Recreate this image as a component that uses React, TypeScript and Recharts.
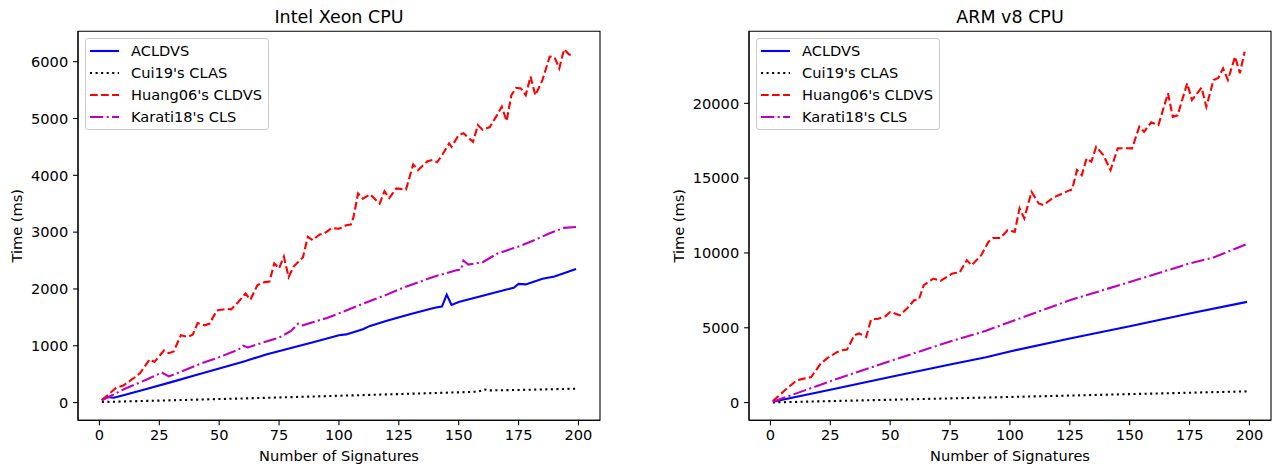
import React from 'react';
import { LineChart, Line, XAxis, YAxis, ReferenceArea, Legend } from 'recharts';

const FONT = '"DejaVu Sans", "Liberation Sans", sans-serif';
const FS = 14.6;
const TITLE_FS = 17.5;

// ---------- shared axis values ----------
const X_TICKS = [0, 25, 50, 75, 100, 125, 150, 175, 200];
const X_DOMAIN: [number, number] = [-8.95, 209];

const SERIES_NAMES = ['ACLDVS', "Cui19's CLAS", "Huang06's CLDVS", "Karati18's CLS"];

// ---------- Intel Xeon CPU ----------
const INTEL_Y_TICKS = [0, 1000, 2000, 3000, 4000, 5000, 6000];
const INTEL_Y_DOMAIN: [number, number] = [-312, 6535];

const INTEL_ACLDVS_X = [1, 3, 6, 10, 20, 30, 40, 50, 60, 70, 80, 90, 100, 103, 110, 113, 120, 130, 140, 143, 145, 147, 150, 160, 170, 173, 175, 178, 185, 190, 199];
const INTEL_ACLDVS_Y = [40, 100, 85, 130, 245, 360, 480, 600, 720, 850, 960, 1070, 1185, 1200, 1290, 1350, 1440, 1560, 1670, 1690, 1900, 1720, 1770, 1880, 1990, 2020, 2090, 2080, 2180, 2220, 2350];

const INTEL_CUI_X = [1, 25, 50, 75, 100, 125, 150, 158, 161, 163, 175, 199];
const INTEL_CUI_Y = [10, 35, 62, 90, 120, 150, 180, 192, 230, 215, 222, 245];

const INTEL_HUANG_X = [1, 4, 7, 10, 14, 17, 21, 23, 27, 29, 31, 34, 37, 39, 41, 44, 46, 49, 53, 55, 58, 61, 63, 66, 69, 71, 73, 75, 77, 79, 81, 85, 87, 89, 92, 94, 97, 100, 103, 105, 106, 108, 110, 113, 117, 119, 121, 124, 128, 131, 133, 137, 139, 141, 143, 146, 147, 150, 152, 156, 158, 160, 163, 166, 168, 170, 172, 174, 176, 178, 180, 182, 185, 188, 190, 192, 194, 196, 198];
const INTEL_HUANG_Y = [50, 150, 260, 300, 420, 520, 760, 715, 920, 870, 900, 1185, 1155, 1200, 1400, 1360, 1390, 1620, 1650, 1640, 1770, 1920, 1810, 2070, 2120, 2130, 2450, 2360, 2570, 2210, 2390, 2560, 2920, 2860, 2960, 2980, 3070, 3060, 3120, 3135, 3250, 3680, 3590, 3665, 3500, 3720, 3600, 3770, 3750, 4190, 4090, 4250, 4270, 4230, 4350, 4560, 4500, 4710, 4740, 4590, 4885, 4800, 4850, 5060, 5210, 4955, 5410, 5540, 5530, 5410, 5740, 5410, 5680, 6090, 6080, 5880, 6220, 6130, 6100];

const INTEL_KARATI_X = [1, 10, 20, 26, 29, 35, 42, 50, 58, 60, 62, 70, 75, 80, 83, 85, 88, 95, 100, 110, 120, 125, 130, 140, 149, 151, 152, 154, 160, 166, 173, 175, 180, 188, 194, 199];
const INTEL_KARATI_Y = [40, 230, 410, 530, 460, 560, 680, 800, 930, 1000, 970, 1080, 1145, 1260, 1390, 1360, 1400, 1490, 1570, 1740, 1900, 1990, 2070, 2220, 2330, 2340, 2500, 2430, 2470, 2620, 2720, 2745, 2830, 2980, 3075, 3090];

// ---------- ARM v8 CPU ----------
const ARM_Y_TICKS = [0, 5000, 10000, 15000, 20000];
const ARM_Y_DOMAIN: [number, number] = [-1184, 24816];

const ARM_ACLDVS_X = [1, 25, 50, 75, 90, 100, 125, 150, 175, 199];
const ARM_ACLDVS_Y = [50, 860, 1710, 2540, 3030, 3420, 4280, 5100, 5950, 6730];

const ARM_CUI_X = [1, 50, 100, 150, 199];
const ARM_CUI_Y = [10, 190, 375, 565, 750];

const ARM_HUANG_X = [1, 6, 11, 14, 17, 21, 24, 28, 30, 32, 35, 37, 40, 42, 45, 48, 50, 54, 57, 60, 62, 64, 68, 71, 76, 79, 82, 84, 88, 91, 93, 96, 99, 102, 104, 106, 109, 112, 114, 118, 121, 125, 126, 128, 130, 132, 134, 136, 139, 142, 145, 148, 151, 154, 156, 159, 162, 166, 168, 170, 174, 176, 180, 182, 185, 187, 189, 191, 194, 196, 198];
const ARM_HUANG_Y = [100, 820, 1490, 1600, 1700, 2610, 3000, 3390, 3500, 3540, 4500, 4620, 4390, 5550, 5600, 5770, 6060, 5840, 6290, 6840, 6900, 7850, 8290, 8140, 8630, 8700, 9520, 9180, 9850, 10740, 11000, 11000, 11520, 11410, 12980, 12310, 14090, 13310, 13200, 13690, 13910, 14200, 14250, 15540, 15200, 16320, 16100, 17100, 16540, 15540, 16990, 17000, 16990, 18440, 18100, 18730, 18550, 20670, 19100, 19200, 21340, 20220, 21050, 19770, 21560, 21700, 22340, 21560, 23120, 22010, 23450];

const ARM_KARATI_X = [1, 25, 50, 75, 90, 100, 125, 150, 175, 185, 199];
const ARM_KARATI_Y = [50, 1430, 2780, 4080, 4800, 5390, 6840, 8060, 9300, 9700, 10600];

// ---------- styles ----------
const LW = 2.1;
const STYLES = [
  { color: '#0000ff', dash: undefined as string | undefined },
  { color: '#000000', dash: '2.1 3.45' },
  { color: '#ff0000', dash: '7.7 3.33' },
  { color: '#bf00bf', dash: '13.3 3.33 2.1 3.33' },
];

type Pt = { x: number; y: number };
const zip = (xs: number[], ys: number[]): Pt[] => xs.map((x, i) => ({ x, y: ys[i] }));

const INTEL_SERIES = [
  zip(INTEL_ACLDVS_X, INTEL_ACLDVS_Y),
  zip(INTEL_CUI_X, INTEL_CUI_Y),
  zip(INTEL_HUANG_X, INTEL_HUANG_Y),
  zip(INTEL_KARATI_X, INTEL_KARATI_Y),
];
const ARM_SERIES = [
  zip(ARM_ACLDVS_X, ARM_ACLDVS_Y),
  zip(ARM_CUI_X, ARM_CUI_Y),
  zip(ARM_HUANG_X, ARM_HUANG_Y),
  zip(ARM_KARATI_X, ARM_KARATI_Y),
];

const LegendBox = () => (
  <div
    style={{
      border: '1px solid #cccccc',
      borderRadius: 3,
      background: 'rgba(255,255,255,0.8)',
      padding: '1px 6px 1px 4px',
      fontFamily: FONT,
      fontSize: FS,
      color: '#000',
      whiteSpace: 'nowrap',
    }}
  >
    {SERIES_NAMES.map((name, i) => (
      <div key={name} style={{ display: 'flex', alignItems: 'center', height: 22 }}>
        <svg width={29} height={22} style={{ display: 'block' }}>
          <line
            x1={0}
            y1={11}
            x2={29}
            y2={11}
            stroke={STYLES[i].color}
            strokeWidth={LW}
            strokeDasharray={STYLES[i].dash}
          />
        </svg>
        <span style={{ marginLeft: 12, lineHeight: '22px' }}>{name}</span>
      </div>
    ))}
  </div>
);

type PanelProps = {
  left: number;
  width: number;
  title: string;
  series: Pt[][];
  yDomain: [number, number];
  yTicks: number[];
  yLabelX: number;
  legendLeft: number;
};

const PLOT_W = 522;
const AXIS_W = 78;

function Panel({ left, width, title, series, yDomain, yTicks, yLabelX, legendLeft }: PanelProps) {
  const textStyle = { fill: '#000', fontSize: FS, fontFamily: FONT };
  return (
    <div style={{ position: 'absolute', left, top: 0 }}>
      <LineChart
        width={width}
        height={467}
        margin={{ top: 31.3, right: width - AXIS_W - PLOT_W, bottom: 0, left: 0 }}
      >
        <XAxis
          type="number"
          dataKey="x"
          domain={X_DOMAIN}
          ticks={X_TICKS}
          interval={0}
          allowDataOverflow
          height={46.7}
          tickSize={4.9}
          tickMargin={4.6}
          axisLine={{ stroke: '#000', strokeWidth: 1.1 }}
          tickLine={{ stroke: '#000', strokeWidth: 1.1 }}
          tick={textStyle}
          label={{
            content: (p: any) => {
              const vb = p.viewBox || {};
              return (
                <text
                  x={vb.x + vb.width / 2}
                  y={vb.y + 41}
                  textAnchor="middle"
                  fill="#000"
                  fontSize={FS}
                  fontFamily={FONT}
                >
                  Number of Signatures
                </text>
              );
            },
          }}
        />
        <YAxis
          type="number"
          domain={yDomain}
          ticks={yTicks}
          interval={0}
          allowDataOverflow
          width={AXIS_W}
          tickSize={4.9}
          tickMargin={4.9}
          axisLine={{ stroke: '#000', strokeWidth: 1.1 }}
          tickLine={{ stroke: '#000', strokeWidth: 1.1 }}
          tick={textStyle}
          label={{
            content: (p: any) => {
              const vb = p.viewBox || {};
              const cx = vb.x + yLabelX;
              const cy = vb.y + vb.height / 2;
              return (
                <text
                  x={cx}
                  y={cy}
                  transform={`rotate(-90 ${cx} ${cy})`}
                  textAnchor="middle"
                  dominantBaseline="central"
                  fill="#000"
                  fontSize={FS}
                  fontFamily={FONT}
                >
                  Time (ms)
                </text>
              );
            },
          }}
        />
        {series.map((d, i) => (
          <Line
            key={SERIES_NAMES[i]}
            data={d}
            dataKey="y"
            name={SERIES_NAMES[i]}
            type="linear"
            stroke={STYLES[i].color}
            strokeWidth={LW}
            strokeDasharray={STYLES[i].dash}
            dot={false}
            activeDot={false}
            isAnimationActive={false}
          />
        ))}
        <ReferenceArea
          x1={X_DOMAIN[0]}
          x2={X_DOMAIN[1]}
          y1={yDomain[0]}
          y2={yDomain[1]}
          fill="none"
          fillOpacity={0}
          stroke="#000"
          strokeWidth={1.1}
          ifOverflow="visible"
          label={{
            content: (p: any) => {
              const vb = p.viewBox || {};
              return (
                <text
                  x={vb.x + vb.width / 2}
                  y={vb.y - 8.3}
                  textAnchor="middle"
                  fill="#000"
                  fontSize={TITLE_FS}
                  fontFamily={FONT}
                >
                  {title}
                </text>
              );
            },
          }}
        />
        <Legend
          layout="horizontal"
          verticalAlign="middle"
          align="center"
          content={() => <LegendBox />}
          wrapperStyle={{ top: 38.3, left: legendLeft, width: 'auto', height: 'auto' }}
        />
      </LineChart>
    </div>
  );
}

export default function App() {
  return (
    <div
      style={{
        position: 'absolute',
        left: 0,
        top: 0,
        width: 1275,
        height: 467,
        background: '#fff',
        overflow: 'hidden',
      }}
    >
      <Panel
        left={0}
        width={640}
        title="Intel Xeon CPU"
        series={INTEL_SERIES}
        yDomain={INTEL_Y_DOMAIN}
        yTicks={INTEL_Y_TICKS}
        yLabelX={17}
        legendLeft={85}
      />
      <Panel
        left={671}
        width={604}
        title="ARM v8 CPU"
        series={ARM_SERIES}
        yDomain={ARM_Y_DOMAIN}
        yTicks={ARM_Y_TICKS}
        yLabelX={8}
        legendLeft={85}
      />
    </div>
  );
}
